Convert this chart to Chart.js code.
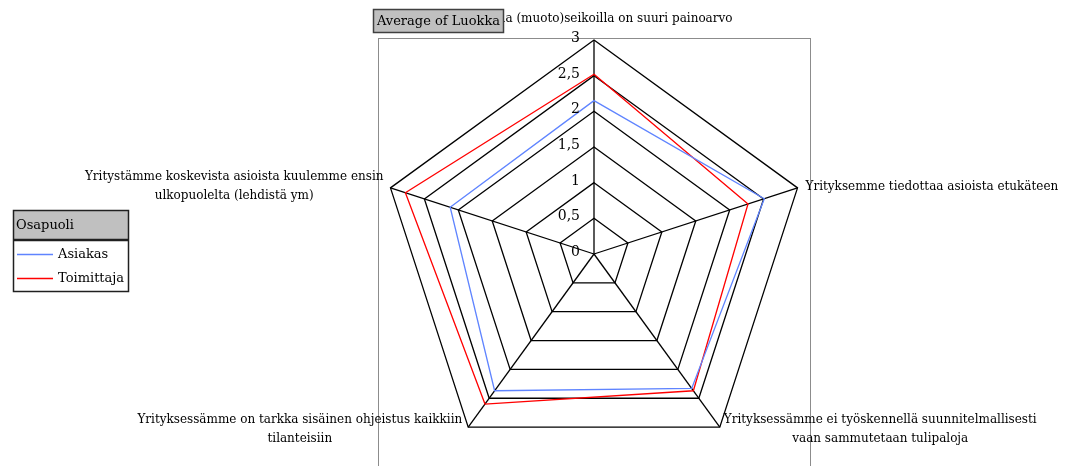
<!DOCTYPE html>
<html>
<head>
<meta charset="utf-8">
<script src="https://cdn.jsdelivr.net/npm/chart.js@4/dist/chart.umd.min.js"></script>
<style>
  html, body { margin: 0; padding: 0; background: #fff; }
  #wrap { width: 1070px; height: 466px; position: relative; }
</style>
</head>
<body>
<div id="wrap"><canvas id="chart" width="1070" height="466"></canvas></div>
<script>
// Statements (axes of the radar), each split into its display lines
const categories = [
  ["Ulkoisilla (muoto)seikoilla on suuri painoarvo"],
  ["Yrityksemme tiedottaa asioista etukäteen"],
  ["Yrityksessämme ei työskennellä suunnitelmallisesti", "vaan sammutetaan tulipaloja"],
  ["Yrityksessämme on tarkka sisäinen ohjeistus kaikkiin", "tilanteisiin"],
  ["Yritystämme koskevista asioista kuulemme ensin", "ulkopuolelta (lehdistä ym)"]
];

// Average of Luokka per party
const asiakas    = [2.15, 2.51, 2.33, 2.37, 2.12];
const toimittaja = [2.52, 2.27, 2.37, 2.60, 2.78];

const seriesNames  = ["Asiakas", "Toimittaja"];
const seriesColors = ["#5f84ff", "#ff0000"];

const tickValues = [0, 0.5, 1, 1.5, 2, 2.5, 3];
const tickLabels = ["0", "0,5", "1", "1,5", "2", "2,5", "3"];

const legendTitle = "Osapuoli";
const fieldButton = "Average of Luokka";

const SERIF = '"DejaVu Serif", "Liberation Serif", serif';

// Layout of the radial scale inside the page
const CENTER = { x: 594, y: 254 };
const RADIUS = 214;

// Plot frame, field button, value labels, category labels and legend
const decorations = {
  id: 'decorations',
  beforeDatasetsDraw(chart) {
    const ctx = chart.ctx;
    // plot-area frame
    ctx.save();
    ctx.strokeStyle = '#8c8c8c';
    ctx.lineWidth = 1;
    ctx.strokeRect(378.5, 38.5, 432, 460);
    ctx.restore();
  },
  afterDraw(chart) {
    const ctx = chart.ctx;
    const scale = chart.scales.r;

    // value labels along the first axis
    ctx.save();
    ctx.font = '14px ' + SERIF;
    ctx.fillStyle = '#000';
    ctx.textAlign = 'right';
    ctx.textBaseline = 'middle';
    tickValues.forEach((v, i) => {
      const p = scale.getPointPositionForValue(0, v);
      ctx.fillText(tickLabels[i], p.x - 14, p.y - 1.5);
    });
    ctx.restore();

    // category labels around the outer polygon
    ctx.save();
    ctx.font = '12px ' + SERIF;
    ctx.fillStyle = '#000';
    ctx.textBaseline = 'middle';
    const lineH = 18.5;
    categories.forEach((lines, i) => {
      const p = scale.getPointPosition(i, scale.drawingArea);
      const widths = lines.map(l => ctx.measureText(l).width);
      const blockW = Math.max(...widths);
      const blockH = lines.length * lineH;
      let left, top;
      const dx = p.x - scale.xCenter;
      if (Math.abs(dx) < 1) {
        left = p.x - blockW / 2;
        top = p.y - 12 - blockH;
      } else if (dx > 0) {
        left = p.x + (p.y > scale.yCenter ? 4 : 8);
        top = p.y - blockH / 2 + (p.y > scale.yCenter ? 2 : -1);
      } else {
        left = p.x - (p.y > scale.yCenter ? 6 : 7) - blockW;
        top = p.y - blockH / 2 + (p.y > scale.yCenter ? 2 : -1.5);
      }
      lines.forEach((l, k) => {
        ctx.textAlign = 'center';
        ctx.fillText(l, left + blockW / 2, top + lineH * (k + 0.5));
      });
    });
    ctx.restore();

    // field button
    ctx.save();
    ctx.fillStyle = '#c0c0c0';
    ctx.fillRect(373, 9, 131, 24);
    ctx.strokeStyle = '#404040';
    ctx.lineWidth = 1.5;
    ctx.strokeRect(373.5, 9.5, 130, 23);
    ctx.font = '13px ' + SERIF;
    ctx.fillStyle = '#000';
    ctx.textAlign = 'center';
    ctx.textBaseline = 'middle';
    ctx.fillText(fieldButton, 438.5, 21.5);
    ctx.restore();

    // legend
    ctx.save();
    const lx = 13, ly = 210, lw = 115, lh = 81;
    ctx.fillStyle = '#fff';
    ctx.fillRect(lx, ly, lw, lh);
    ctx.fillStyle = '#c0c0c0';
    ctx.fillRect(lx, ly, lw, 30);
    ctx.strokeStyle = '#202020';
    ctx.lineWidth = 1.5;
    ctx.strokeRect(lx + 0.5, ly + 0.5, lw, lh);
    ctx.lineWidth = 2.5;
    ctx.beginPath();
    ctx.moveTo(lx, ly + 30);
    ctx.lineTo(lx + lw, ly + 30);
    ctx.stroke();
    ctx.font = '13px ' + SERIF;
    ctx.fillStyle = '#000';
    ctx.textAlign = 'left';
    ctx.textBaseline = 'middle';
    ctx.fillText(legendTitle, lx + 3, ly + 15.5);
    chart.data.datasets.forEach((ds, i) => {
      const y = Math.round(ly + 43.5 + i * 24.5) + 0.5;
      ctx.strokeStyle = ds.borderColor;
      ctx.lineWidth = 1.5;
      ctx.beginPath();
      ctx.moveTo(lx + 4, y);
      ctx.lineTo(lx + 40, y);
      ctx.stroke();
      ctx.fillStyle = '#000';
      ctx.fillText(ds.label, lx + 45, y);
    });
    ctx.restore();
  }
};

new Chart(document.getElementById('chart'), {
  type: 'radar',
  data: {
    labels: categories,
    datasets: [
      { label: seriesNames[0], data: asiakas,    borderColor: seriesColors[0], backgroundColor: 'transparent', borderWidth: 1.3, pointRadius: 0, fill: false, tension: 0 },
      { label: seriesNames[1], data: toimittaja, borderColor: seriesColors[1], backgroundColor: 'transparent', borderWidth: 1.3, pointRadius: 0, fill: false, tension: 0 }
    ]
  },
  options: {
    responsive: false,
    animation: false,
    devicePixelRatio: 1,
    layout: { padding: 0 },
    plugins: { legend: { display: false }, tooltip: { enabled: false } },
    scales: {
      r: {
        min: 0,
        max: 3,
        beginAtZero: true,
        ticks: { stepSize: 0.5, display: false },
        pointLabels: { display: false },
        grid: { color: '#000', lineWidth: 1.3, circular: false },
        angleLines: { color: '#000', lineWidth: 1.3 },
        afterFit(scale) {
          scale.xCenter = CENTER.x;
          scale.yCenter = CENTER.y;
          scale.drawingArea = RADIUS;
        }
      }
    }
  },
  plugins: [decorations]
});
</script>
</body>
</html>
